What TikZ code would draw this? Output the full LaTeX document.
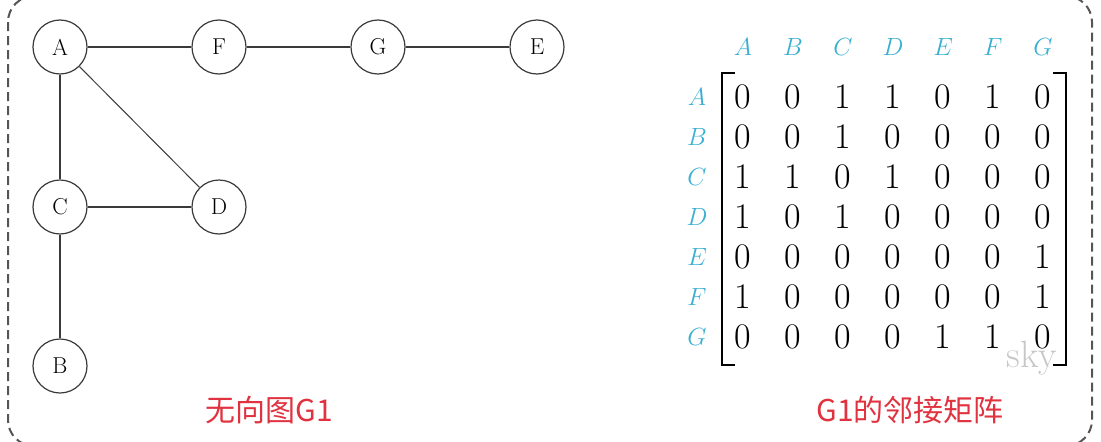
\documentclass[tikz,border=0pt]{standalone}
\usepackage{fontspec}
\newfontfamily\cjk{Noto Sans CJK SC}
\definecolor{lblcyan}{HTML}{3AAFD2}
\definecolor{capred}{HTML}{E0323F}
\definecolor{edgegray}{HTML}{3A3A3A}
\definecolor{bordergray}{HTML}{555555}
\tikzset{
  vtx/.style={circle, draw=edgegray, line width=1.2pt, minimum size=54pt, inner sep=0pt, font=\fontsize{23}{23}\selectfont},
  edge/.style={draw=edgegray, line width=1.3pt},
  cell/.style={inner sep=0pt, font=\fontsize{36}{36}\selectfont},
  lbl/.style={inner sep=0pt, text=lblcyan, font=\fontsize{38}{38}\selectfont},
  caption/.style={inner sep=0pt, text=capred, font=\cjk\fontsize{30}{30}\selectfont},
  brk/.style={draw=black, line width=2.4pt},
}
\begin{document}
\begin{tikzpicture}[x=1pt, y=-1pt]
\useasboundingbox (0,0) rectangle (1101,442);
\clip (0,0) rectangle (1101,442);
\draw[bordergray, line width=2pt, dash pattern=on 9pt off 5pt, rounded corners=26pt] (8,-4) rectangle (1092,446);

% graph
\node[vtx] (A) at (60,47) {A};
\node[vtx] (F) at (219,47) {F};
\node[vtx] (G) at (378,47) {G};
\node[vtx] (E) at (537,47) {E};
\node[vtx] (C) at (60,207) {C};
\node[vtx] (D) at (219,207) {D};
\node[vtx] (B) at (60,366) {B};
\draw[edge] (A) -- (F);
\draw[edge] (F) -- (G);
\draw[edge] (G) -- (E);
\draw[edge] (A) -- (C);
\draw[edge, line width=1pt] (A) -- (D);
\draw[edge] (C) -- (D);
\draw[edge] (C) -- (B);

\node[caption] (cap1) at (269,410) {无向图G1};
\node[caption] (cap2) at (910,410) {G1的邻接矩阵};

% matrix headers
\foreach \n [count=\i from 0] in {A,B,C,D,E,F,G} {
  \node[lbl] (h\n) at ({743+50*\i},47) {$\n$};
  \node[lbl] (r\n) at (697,{97+40*\i}) {$\n$};
}
% matrix entries
\foreach \row [count=\r from 0] in {{0,0,1,1,0,1,0},{0,0,1,0,0,0,0},{1,1,0,1,0,0,0},{1,0,1,0,0,0,0},{0,0,0,0,0,0,1},{1,0,0,0,0,0,1},{0,0,0,0,1,1,0}} {
  \foreach \v [count=\c from 0] in \row {
    \node[cell] (m-\r-\c) at ({743+50*\c},{97+40*\r}) {\v};
  }
}
\node[inner sep=0pt, text=black!22, font=\fontsize{38}{38}\selectfont] (wm) at (1032,358) {sky};

% brackets
\coordinate (lt) at (722,73);
\coordinate (lb) at (722,365);
\coordinate (rt) at (1066,73);
\coordinate (rb) at (1066,365);
\draw[brk] ([xshift=13pt]lt) -- (lt) -- (lb) -- ([xshift=13pt]lb);
\draw[brk] ([xshift=-13pt]rt) -- (rt) -- (rb) -- ([xshift=-13pt]rb);
\end{tikzpicture}
\end{document}
